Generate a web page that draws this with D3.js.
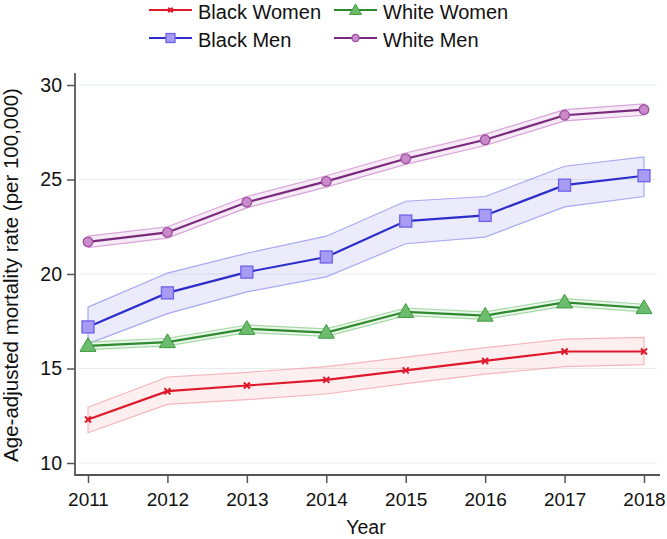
<!DOCTYPE html>
<html><head><meta charset="utf-8">
<script src="https://cdn.jsdelivr.net/npm/d3@7"></script>
<style>body{margin:0;background:#fff}svg{font-family:"Liberation Sans",Arial,Helvetica,sans-serif}</style>
</head><body><svg id="c" width="667" height="539"></svg>
<script>
const years = [2011,2012,2013,2014,2015,2016,2017,2018];
const yTicks = [10,15,20,25,30];
const blackWomen = [12.3,13.8,14.1,14.4,14.9,15.4,15.9,15.9];
const blackWomenLo = [11.6,13.1,13.35,13.65,14.2,14.7,15.1,15.2];
const blackWomenHi = [12.95,14.55,14.8,15.1,15.6,16.1,16.55,16.65];
const blackMen = [17.2,19.0,20.1,20.9,22.8,23.1,24.7,25.2];
const blackMenLo = [16.3,17.9,19.05,19.85,21.6,21.95,23.55,24.1];
const blackMenHi = [18.25,20.05,21.1,22.0,23.85,24.1,25.7,26.2];
const whiteWomen = [16.2,16.4,17.1,16.9,18.0,17.8,18.5,18.2];
const whiteWomenLo = [16.0,16.2,16.9,16.7,17.8,17.6,18.3,18.0];
const whiteWomenHi = [16.4,16.6,17.3,17.1,18.2,18.0,18.7,18.4];
const whiteMen = [21.7,22.2,23.8,24.9,26.1,27.1,28.4,28.7];
const whiteMenLo = [21.4,21.9,23.5,24.6,25.8,26.8,28.1,28.4];
const whiteMenHi = [22.0,22.5,24.1,25.2,26.4,27.4,28.7,29.0];

const svg = d3.select("#c");
const x = d3.scaleLinear().domain([2011,2018]).range([88,644]);
const y = d3.scaleLinear().domain([10,30]).range([463,85]);

// gridlines
svg.append("g").selectAll("line").data(yTicks).join("line")
  .attr("x1",79).attr("x2",657).attr("y1",d=>y(d)).attr("y2",d=>y(d))
  .attr("stroke","#e6eeee").attr("stroke-width",1.2);

const series = [
  {name:"White Men", v:whiteMen, lo:whiteMenLo, hi:whiteMenHi, line:"#7a2a7c", band:"#cc88cc", fill:"#c98bc9", mstroke:"#a04ca0", sym:"circle"},
  {name:"Black Men", v:blackMen, lo:blackMenLo, hi:blackMenHi, line:"#2d2dcc", band:"#8f8fef", fill:"#a79bf3", mstroke:"#6c62ea", sym:"square"},
  {name:"White Women", v:whiteWomen, lo:whiteWomenLo, hi:whiteWomenHi, line:"#2e8a2e", band:"#8ccc8c", fill:"#6dbb6d", mstroke:"#3d9a3d", sym:"triangle"},
  {name:"Black Women", v:blackWomen, lo:blackWomenLo, hi:blackWomenHi, line:"#e0182c", band:"#f2a0a8", fill:"#e0182c", mstroke:"#e0182c", sym:"x"}
];

const area = d3.area().x((d,i)=>x(years[i])).y0(d=>y(d[0])).y1(d=>y(d[1]));
const line = d3.line().x((d,i)=>x(years[i])).y(d=>y(d));

// bands
series.forEach(s=>{
  const pts = s.lo.map((l,i)=>[l,s.hi[i]]);
  svg.append("path").attr("d",area(pts)).attr("fill",s.band).attr("fill-opacity",0.18)
    .attr("stroke",s.band).attr("stroke-opacity",0.75).attr("stroke-width",1.2);
});

function drawMarker(g, s, cx, cy, scale){
  scale = scale||1;
  if(s.sym==="circle"){
    g.append("circle").attr("cx",cx).attr("cy",cy).attr("r",4.8*scale)
      .attr("fill",s.fill).attr("stroke",s.mstroke).attr("stroke-width",1.3);
  } else if(s.sym==="square"){
    const h=6*scale;
    g.append("rect").attr("x",cx-h).attr("y",cy-h).attr("width",2*h).attr("height",2*h)
      .attr("fill",s.fill).attr("stroke",s.mstroke).attr("stroke-width",1.3);
  } else if(s.sym==="triangle"){
    g.append("path").attr("d",d3.symbol(d3.symbolTriangle, 110*scale*scale)()).attr("transform",`translate(${cx},${cy+1})`)
      .attr("fill",s.fill).attr("stroke",s.mstroke).attr("stroke-width",1);
  } else {
    const h=3*scale;
    g.append("path").attr("d",`M${cx-h},${cy-h}L${cx+h},${cy+h}M${cx-h},${cy+h}L${cx+h},${cy-h}`)
      .attr("stroke",s.line).attr("stroke-width",2);
  }
}

series.forEach(s=>{
  svg.append("path").attr("d",line(s.v)).attr("fill","none").attr("stroke",s.line).attr("stroke-width",2.2);
  const g = svg.append("g");
  s.v.forEach((v,i)=>drawMarker(g,s,x(years[i]),y(v)));
});

// axes
svg.append("line").attr("x1",75).attr("x2",75).attr("y1",73).attr("y2",476).attr("stroke","#555").attr("stroke-width",1.8);
svg.append("line").attr("x1",75).attr("x2",660).attr("y1",475).attr("y2",475).attr("stroke","#555").attr("stroke-width",1.8);

const yAxis = d3.axisLeft(y).tickValues(yTicks).tickSize(8).tickPadding(5).tickFormat(d3.format("d"));
const ga = svg.append("g").attr("transform","translate(75,0)").call(yAxis);
ga.select(".domain").remove();
ga.selectAll("line").attr("stroke","#555").attr("stroke-width",1.5);
ga.selectAll("text").attr("font-size",19.5).attr("fill","#111").attr("font-family","inherit");

const xAxis = d3.axisBottom(x).tickValues(years).tickSize(8).tickPadding(0).tickFormat(d3.format("d"));
const gx = svg.append("g").attr("transform","translate(0,475)").call(xAxis);
gx.select(".domain").remove();
gx.selectAll("line").attr("stroke","#555").attr("stroke-width",1.5);
gx.selectAll("text").attr("dy",null).attr("y",31).attr("font-size",19).attr("fill","#111").attr("font-family","inherit");

svg.append("text").attr("x",366).attr("y",534).attr("text-anchor","middle").attr("font-size",19.5).attr("fill","#111").text("Year");
svg.append("text").attr("transform","translate(18,275) rotate(-90)").attr("text-anchor","middle").attr("font-size",20.5).attr("fill","#111").text("Age-adjusted mortality rate (per 100,000)");

// legend
const legend = [
  {s:series[3], x:149, y:10},
  {s:series[2], x:334, y:10},
  {s:series[1], x:149, y:38},
  {s:series[0], x:334, y:38}
];
legend.forEach(l=>{
  const g = svg.append("g");
  g.append("line").attr("x1",l.x).attr("x2",l.x+43).attr("y1",l.y).attr("y2",l.y).attr("stroke",l.s.line).attr("stroke-width",2);
  drawMarker(g,l.s,l.x+21.5,l.y,0.75);
  g.append("text").attr("x",l.x+49).attr("y",l.y+8.5).attr("font-size",20).attr("fill","#111").text(l.s.name);
});
</script></body></html>
